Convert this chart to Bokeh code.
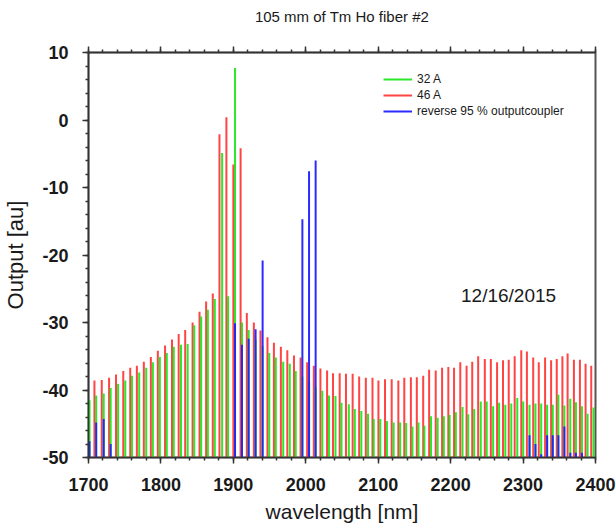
from bokeh.plotting import figure
from bokeh.models import Range1d, LinearAxis, SingleIntervalTicker, Legend, LegendItem, Label
from bokeh.embed import file_html
from bokeh.resources import INLINE

# ---- data ----
wl_32A = [1701.4, 1710.6, 1721.0, 1730.6, 1740.8, 1750.8, 1760.0, 1770.0, 1779.7, 1788.9,
          1798.5, 1808.1, 1817.7, 1827.7, 1836.9, 1846.0, 1855.6, 1864.8, 1874.4, 1884.5,
          1892.7, 1902.3, 1911.9, 1921.1, 1930.7, 1940.4, 1949.6, 1958.6, 1968.8, 1977.9,
          1986.1, 1995.3, 2004.5, 2013.6, 2022.8, 2032.0, 2041.0, 2049.3, 2059.4, 2067.7,
          2076.7, 2085.9, 2093.8, 2102.8, 2112.1, 2121.3, 2130.3, 2138.6, 2147.3, 2155.6,
          2163.8, 2172.9, 2182.1, 2190.6, 2198.6, 2207.2, 2216.4, 2224.3, 2232.5, 2241.6,
          2249.8, 2258.6, 2266.9, 2275.5, 2283.7, 2292.0, 2300.2, 2308.9, 2317.1, 2325.0,
          2333.2, 2341.0, 2348.7, 2357.0, 2365.2, 2373.0, 2381.3, 2389.1, 2397.3]
out_32A = [-41.5, -40.8, -40.5, -39.7, -39.1, -38.6, -37.9, -37.4, -36.7, -35.9,
           -35.1, -34.5, -33.6, -33.3, -33.2, -30.4, -29.1, -28.1, -26.5, -4.9,
           -26.1, 7.7, -30.0, -31.1, -32.5, -33.5, -34.5, -35.2, -35.8, -36.1,
           -37.2, -38.0, -38.8, -39.6, -40.1, -40.8, -40.9, -41.9, -42.1, -42.8,
           -43.1, -43.5, -44.3, -44.3, -44.6, -44.8, -44.8, -44.9, -45.4, -44.8,
           -45.3, -43.9, -44.1, -43.9, -43.7, -43.3, -42.5, -43.6, -42.8, -41.7,
           -41.7, -42.4, -41.9, -42.2, -42.0, -41.2, -41.7, -42.2, -42.0, -42.0,
           -42.2, -42.2, -40.7, -42.3, -41.3, -41.8, -42.4, -43.5, -42.6]

wl_46A = [1708.2, 1718.3, 1728.4, 1738.0, 1748.0, 1757.6, 1766.8, 1776.4, 1786.1, 1795.7,
          1805.7, 1815.3, 1824.5, 1833.5, 1843.7, 1853.3, 1862.4, 1871.6, 1880.8, 1890.4,
          1900.0, 1910.0, 1918.6, 1928.3, 1937.4, 1947.1, 1956.0, 1965.6, 1974.5, 1983.7,
          1992.8, 2001.9, 2011.1, 2020.2, 2029.4, 2037.6, 2046.8, 2055.5, 2064.7, 2073.7,
          2082.9, 2092.1, 2100.3, 2109.4, 2118.6, 2127.8, 2136.0, 2145.1, 2153.3, 2162.1,
          2170.3, 2179.4, 2188.2, 2196.8, 2204.7, 2213.3, 2222.0, 2229.8, 2238.0, 2247.2,
          2255.5, 2264.1, 2272.3, 2280.2, 2288.4, 2297.5, 2305.3, 2314.0, 2321.7, 2330.4,
          2338.7, 2346.5, 2354.3, 2361.5, 2370.2, 2378.5, 2386.3, 2394.1]
out_46A = [-38.6, -38.5, -38.2, -37.7, -37.2, -36.7, -36.4, -35.8, -35.1, -34.2,
           -33.4, -32.5, -31.7, -31.1, -30.0, -28.4, -26.9, -25.7, -2.1, 0.4,
           -6.6, -4.2, -28.6, -30.0, -31.2, -32.2, -33.0, -33.6, -34.1, -34.9,
           -35.2, -35.9, -36.4, -36.8, -37.1, -37.5, -37.5, -37.6, -37.6, -38.0,
           -38.2, -38.2, -38.6, -38.4, -38.4, -38.6, -38.2, -38.1, -38.1, -37.9,
           -37.0, -37.1, -36.7, -36.6, -36.7, -35.9, -36.4, -35.8, -35.0, -35.4,
           -35.4, -35.9, -35.6, -35.5, -35.0, -34.1, -34.3, -35.2, -35.9, -35.2,
           -35.6, -35.4, -35.0, -34.6, -35.5, -35.5, -36.1, -36.4]

wl_rev = [1701.4, 1710.6, 1721.0, 1730.6, 1902.3, 1911.9, 1921.1, 1930.7, 1940.4,
          1995.3, 2004.5, 2013.6, 2308.9, 2317.1, 2325.0, 2333.2, 2341.0, 2348.7,
          2357.0, 2365.2, 2373.0, 2381.3]
out_rev = [-47.6, -44.8, -44.3, -48.0, -30.1, -33.3, -32.4, -31.0, -20.8,
           -14.7, -7.6, -6.0, -46.7, -48.0, -49.5, -46.7, -46.7, -46.7,
           -45.4, -49.3, -49.3, -49.3]

x_ticks = [1700, 1800, 1900, 2000, 2100, 2200, 2300, 2400]
y_ticks = [-50, -40, -30, -20, -10, 0, 10]
series_labels = ["32 A", "46 A", "reverse 95 % outputcoupler"]
series_colors = ["#14e614", "#ff3030", "#2020ff"]
x_min, x_max = 1700, 2400
y_min, y_max = -50, 10

FONT = "Liberation Sans"

p = figure(width=616, height=527, output_backend="svg", toolbar_location=None,
           x_range=Range1d(x_min, x_max), y_range=Range1d(y_min, y_max),
           min_border_left=85, min_border_right=21, min_border_top=52, min_border_bottom=70,
           background_fill_color="white", border_fill_color="white")
p.grid.visible = False
p.outline_line_color = "#555555"
p.outline_line_width = 2

r_red = p.segment(x0=wl_46A, y0=[y_min] * len(wl_46A), x1=wl_46A, y1=out_46A,
                  line_color=series_colors[1], line_width=2, line_alpha=0.9)
r_green = p.segment(x0=wl_32A, y0=[y_min] * len(wl_32A), x1=wl_32A, y1=out_32A,
                    line_color=series_colors[0], line_width=2, line_alpha=0.9)
r_blue = p.segment(x0=wl_rev, y0=[y_min] * len(wl_rev), x1=wl_rev, y1=out_rev,
                   line_color=series_colors[2], line_width=2, line_alpha=0.95)

def style_axis(ax):
    ax.axis_line_color = "#333333"
    ax.axis_line_width = 1.5
    ax.major_tick_line_color = "#333333"
    ax.minor_tick_line_color = "#333333"
    ax.major_tick_line_width = 1.5
    ax.minor_tick_line_width = 1.5
    ax.major_tick_in = 0
    ax.major_tick_out = 6
    ax.minor_tick_in = 0
    ax.minor_tick_out = 3
    ax.major_label_text_font = FONT
    ax.major_label_text_font_style = "bold"
    ax.major_label_text_font_size = "18px"
    ax.major_label_text_color = "#1a1a1a"
    ax.axis_label_text_font = FONT
    ax.axis_label_text_font_style = "normal"
    ax.axis_label_text_font_size = "21px"
    ax.axis_label_text_color = "#1a1a1a"

xax = p.xaxis[0]
xax.ticker = SingleIntervalTicker(interval=100, num_minor_ticks=5)
style_axis(xax)
xax.axis_label = "wavelength [nm]"
xax.major_label_standoff = 14
xax.axis_label_standoff = 6

yax = p.yaxis[0]
yax.ticker = SingleIntervalTicker(interval=10, num_minor_ticks=5)
style_axis(yax)
yax.major_label_overrides = {t: str(t) for t in y_ticks}
yax.axis_label = "Output [au]"
yax.axis_label_text_font_size = "22px"
yax.major_label_standoff = 14
yax.axis_label_standoff = 11

top = LinearAxis(ticker=SingleIntervalTicker(interval=100, num_minor_ticks=5))
style_axis(top)
top.major_label_overrides = {t: "" for t in x_ticks}
top.axis_label = " "
top.axis_label_text_font_size = "12px"
top.axis_label_standoff = 0
p.add_layout(top, "above")

p.title.text = "105 mm of Tm Ho fiber #2"
p.title.align = "center"
p.title.text_font = FONT
p.title.text_font_style = "normal"
p.title.text_font_size = "15px"
p.title.text_color = "#1a1a1a"

legend = Legend(items=[LegendItem(label=series_labels[0], renderers=[r_green]),
                       LegendItem(label=series_labels[1], renderers=[r_red]),
                       LegendItem(label=series_labels[2], renderers=[r_blue])],
                location=(295, 338), padding=0, margin=0, spacing=0,
                glyph_width=29, glyph_height=16, label_height=16, label_standoff=5,
                label_text_font=FONT, label_text_font_size="12px", label_text_color="#1a1a1a",
                border_line_alpha=0, background_fill_alpha=0)
p.add_layout(legend, "center")

p.add_layout(Label(x=2280, y=-26, text="12/16/2015", text_align="center",
                   text_baseline="middle", text_font=FONT, text_font_size="19px",
                   text_color="#1a1a1a"))

open("out.html", "w").write(file_html(p, INLINE))
